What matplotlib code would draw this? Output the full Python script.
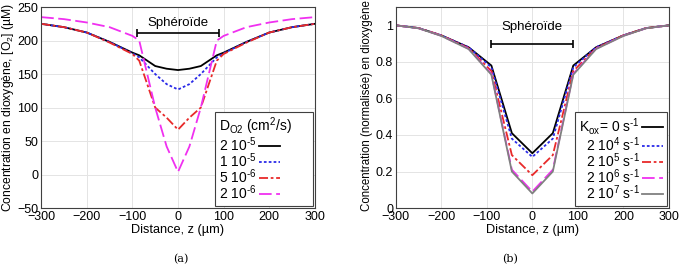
import matplotlib.pyplot as plt

plt.rcParams['font.family'] = ['Liberation Sans', 'DejaVu Sans']
plt.rcParams['mathtext.fontset'] = 'custom'
plt.rcParams['mathtext.rm'] = 'Liberation Sans'
plt.rcParams['mathtext.it'] = 'Liberation Sans'

# --- data: panel (a), O2 concentration vs distance for several D_O2 ---
z_a = [-300, -250, -200, -150, -100, -85, -50, -25, 0, 25, 50, 85, 100, 150, 200, 250, 300]
d_labels = ['2 10$^{\\text{-5}}$', '1 10$^{\\text{-5}}$', '5 10$^{\\text{-6}}$', '2 10$^{\\text{-6}}$']
c_2e5 = [225, 220, 212, 198, 182, 178, 162, 158, 156, 158, 162, 178, 182, 198, 212, 220, 225]
c_1e5 = [225, 220, 212, 198, 181, 175, 150, 135, 127, 135, 150, 175, 181, 198, 212, 220, 225]
c_5e6 = [225, 220, 212, 197, 180, 170, 100, 85, 67, 85, 100, 170, 180, 197, 212, 220, 225]
c_2e6 = [235, 232, 227, 220, 207, 200, 100, 42, 4, 42, 100, 200, 207, 220, 227, 232, 235]

# --- data: panel (b), normalised concentration for several K_ox ---
z_b = [-300, -250, -200, -140, -90, -45, 0, 45, 90, 140, 200, 250, 300]
k_labels = ['K$_{ox}$= 0 s$^{\\text{-1}}$', '2 10$^4$ s$^{\\text{-1}}$', '2 10$^5$ s$^{\\text{-1}}$',
            '2 10$^6$ s$^{\\text{-1}}$', '2 10$^7$ s$^{\\text{-1}}$']
n_k0 = [1.0, 0.985, 0.945, 0.88, 0.78, 0.41, 0.30, 0.41, 0.78, 0.88, 0.945, 0.985, 1.0]
n_k4 = [1.0, 0.985, 0.945, 0.88, 0.77, 0.38, 0.28, 0.38, 0.77, 0.88, 0.945, 0.985, 1.0]
n_k5 = [1.0, 0.985, 0.945, 0.875, 0.75, 0.29, 0.18, 0.29, 0.75, 0.875, 0.945, 0.985, 1.0]
n_k6 = [1.0, 0.984, 0.943, 0.872, 0.735, 0.21, 0.09, 0.21, 0.735, 0.872, 0.943, 0.984, 1.0]
n_k7 = [1.0, 0.984, 0.942, 0.870, 0.73, 0.20, 0.08, 0.20, 0.73, 0.870, 0.942, 0.984, 1.0]

styles = [dict(color='black', ls='-'),
          dict(color='#2a2ae8', ls=(0, (1.5, 1.2))),
          dict(color='#e82a2a', ls=(0, (5, 1.5, 1.5, 1.5))),
          dict(color='#f030f0', ls=(0, (7, 2.5))),
          dict(color='#808080', ls='-')]

fig = plt.figure(figsize=(6.86, 2.72), dpi=100)
ax1 = fig.add_axes([0.060, 0.235, 0.399, 0.739])
ax2 = fig.add_axes([0.577, 0.235, 0.398, 0.739])

for ys, lab, st in zip([c_2e5, c_1e5, c_5e6, c_2e6], d_labels, styles):
    ax1.plot(z_a, ys, lw=1.3, label=lab, **st)
for ys, lab, st in zip([n_k0, n_k4, n_k5, n_k6, n_k7], k_labels, styles):
    ax2.plot(z_b, ys, lw=1.3, label=lab, **st)

# spheroid marker
for ax, yb, yt in [(ax1, 211, 217), (ax2, 0.9, 0.96)]:
    ax.errorbar([0], [yb], xerr=[[90], [90]], color='black', lw=1.2,
                capsize=3, capthick=1.2, fmt='none')
    ax.text(0, yt, 'Sphéroïde', ha='center', va='bottom', fontsize=9.5)

ax1.set_xlim(-300, 300)
ax1.set_ylim(-50, 250)
ax1.set_yticks(range(-50, 251, 50))
ax1.set_ylabel('Concentration en dioxygène, [O$_2$] (µM)', fontsize=8.7, labelpad=1)
ax2.set_xlim(-300, 300)
ax2.set_ylim(0, 1.1)
ax2.set_yticks([0, 0.2, 0.4, 0.6, 0.8, 1])
ax2.set_yticklabels(['0', '0.2', '0.4', '0.6', '0.8', '1'])
ax2.set_ylabel('Concentration (normalisée) en dioxygène', fontsize=8.3, labelpad=1)
ax2.yaxis.set_label_coords(-0.085, 0.51)

for ax in (ax1, ax2):
    ax.set_xticks(range(-300, 301, 100))
    ax.set_xlabel('Distance, z (µm)', fontsize=9.2, labelpad=1)
    ax.grid(True, color='#e4e4e4', lw=0.7)
    ax.set_axisbelow(True)
    ax.tick_params(labelsize=9, length=0, pad=2)
    for sp in ax.spines.values():
        sp.set_color('#404040')
        sp.set_linewidth(0.8)

leg_kw = dict(fontsize=10, markerfirst=False, fancybox=False, framealpha=1,
              edgecolor='#404040', handlelength=1.5, handletextpad=0.15,
              borderpad=0.3, labelspacing=-0.18, borderaxespad=0.15)
leg1 = ax1.legend(loc='lower right', title='D$_{O2}$ (cm$^2$/s)' + '\u2007' * 3,
                  title_fontsize=10, alignment='left', **leg_kw)
leg2 = ax2.legend(loc='lower right', **leg_kw)
for leg in (leg1, leg2):
    leg.get_frame().set_linewidth(0.8)
    for t in leg.get_texts():
        t.set_ha('right')

fig.text(0.263, 0.035, '(a)', ha='center', family='DejaVu Serif', fontsize=8)
fig.text(0.744, 0.035, '(b)', ha='center', family='DejaVu Serif', fontsize=8)

fig.savefig('out.png', dpi=100)
